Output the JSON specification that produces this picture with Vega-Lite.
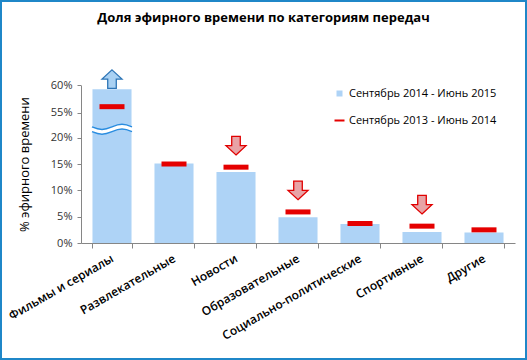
{
  "$schema": "https://vega.github.io/schema/vega-lite/v6.json",
  "width": 527,
  "height": 360,
  "autosize": "none",
  "padding": 0,
  "background": "white",
  "title": {
    "text": "Доля эфирного времени по категориям передач",
    "anchor": "middle",
    "frame": "group",
    "offset": -25,
    "font": "Open Sans",
    "fontSize": 13,
    "fontWeight": "bold",
    "color": "#000000"
  },
  "config": {
    "view": {"stroke": "#1f87c8", "strokeWidth": 4},
    "font": "Open Sans"
  },
  "datasets": {
    "main": [
      {"cat": "Фильмы и сериалы", "v2015": 59.3, "v2014": 56.1, "arrow": "up"},
      {"cat": "Развлекательные", "v2015": 15.1, "v2014": 15.0, "arrow": "none"},
      {"cat": "Новости", "v2015": 13.5, "v2014": 14.4, "arrow": "down"},
      {"cat": "Образовательные", "v2015": 4.9, "v2014": 5.9, "arrow": "down"},
      {"cat": "Социально-политические", "v2015": 3.6, "v2014": 3.7, "arrow": "none"},
      {"cat": "Спортивные", "v2015": 2.1, "v2014": 3.2, "arrow": "down"},
      {"cat": "Другие", "v2015": 2.0, "v2014": 2.5, "arrow": "none"}
    ],
    "brk": [
      {"cat": "Фильмы и сериалы", "brk": 21.6}
    ]
  },
  "layer": [
    {
      "data": {"name": "main"},
      "mark": {"type": "bar", "opacity": 1},
      "encoding": {
        "x": {
          "field": "cat", "type": "nominal", "sort": null,
          "scale": {"range": [81, 515], "paddingInner": 0.37, "paddingOuter": 0.185},
          "axis": {
            "title": null, "orient": "bottom", "offset": -117,
            "domainColor": "#868686", "tickColor": "#868686", "tickSize": 5,
            "tickBand": "extent",
            "labelAngle": -30, "labelAlign": "right", "labelBaseline": "middle",
            "labelPadding": 9, "labelFont": "Open Sans", "labelFontSize": 12,
            "labelFontWeight": 600, "labelColor": "#000000", "labelOverlap": false
          }
        },
        "y": {
          "field": "v2015", "type": "quantitative", "title": "% эфирного времени",
          "scale": {"domain": [0, 21.8, 52.5, 60], "range": [243, 128.2, 126.4, 85.3], "nice": false, "zero": false, "clamp": false},
          "axis": {
            "title": "% эфирного времени", "orient": "left", "offset": -81,
            "values": [0, 5, 10, 15, 20, 55, 60],
            "labelExpr": "datum.value + '%'",
            "grid": false,
            "domainColor": "#868686", "tickColor": "#868686", "tickSize": 4,
            "labelPadding": 5, "labelFontSize": 11, "labelColor": "#333333",
            "titleFontSize": 13, "titleFontWeight": "normal", "titleColor": "#000000",
            "titlePadding": 19
          }
        },
        "color": {
          "datum": "Сентябрь 2014 - Июнь 2015",
          "scale": {"domain": ["Сентябрь 2014 - Июнь 2015"], "range": ["#aed3f6"]},
          "legend": {
            "title": null, "orient": "none", "legendX": 334, "legendY": 88,
            "labelFontSize": 11, "labelColor": "#000000", "labelOffset": 4,
            "symbolSize": 100, "symbolStrokeWidth": 0, "symbolOpacity": 1,
            "symbolType": "M-0.6,-0.6H0.6V0.6H-0.6Z"
          }
        }
      }
    },
    {
      "data": {"name": "brk"},
      "mark": {"type": "point", "filled": true, "fill": "white", "strokeWidth": 0, "opacity": 1, "size": 1600,
        "shape": "M-1,-0.12C-0.6,0.05 -0.4,0.05 0,-0.12C0.4,-0.29 0.6,-0.29 1,-0.12L1,0.12C0.6,-0.05 0.4,-0.05 0,0.12C-0.4,0.29 -0.6,0.29 -1,0.12Z"},
      "encoding": {
        "x": {"field": "cat", "type": "nominal", "sort": null},
        "y": {"field": "brk", "type": "quantitative", "title": "% эфирного времени"}
      }
    },
    {
      "data": {"name": "brk"},
      "mark": {"type": "point", "filled": false, "stroke": "#2a8de0", "strokeWidth": 1.5, "opacity": 1, "size": 1600,
        "shape": "M-1,-0.12C-0.6,0.05 -0.4,0.05 0,-0.12C0.4,-0.29 0.6,-0.29 1,-0.12M-1,0.12C-0.6,0.29 -0.4,0.29 0,0.12C0.4,-0.05 0.6,-0.05 1,0.12"},
      "encoding": {
        "x": {"field": "cat", "type": "nominal", "sort": null},
        "y": {"field": "brk", "type": "quantitative", "title": "% эфирного времени"}
      }
    },
    {
      "data": {"name": "main"},
      "mark": {"type": "tick", "thickness": 5, "size": 25, "opacity": 1},
      "encoding": {
        "x": {"field": "cat", "type": "nominal", "sort": null},
        "y": {"field": "v2014", "type": "quantitative", "title": "% эфирного времени"},
        "fill": {
          "datum": "Сентябрь 2013 - Июнь 2014",
          "scale": {"domain": ["Сентябрь 2013 - Июнь 2014"], "range": ["#e50000"]},
          "legend": {
            "title": null, "orient": "none", "legendX": 334, "legendY": 115,
            "labelFontSize": 11, "labelColor": "#000000", "labelOffset": 4,
            "symbolSize": 100, "symbolStrokeWidth": 0, "symbolOpacity": 1,
            "symbolType": "M-1,-0.2H1V0.2H-1Z"
          }
        }
      }
    },
    {
      "data": {"name": "main"},
      "transform": [{"filter": "datum.arrow === 'up'"}],
      "mark": {"type": "point", "filled": true, "fill": "#a9d1f3", "stroke": "#2e75b6", "strokeWidth": 1.3, "opacity": 1, "size": 816, "yOffset": -10,
        "shape": "M0,-0.65L0.7,0L0.3,0L0.3,0.65L-0.3,0.65L-0.3,0L-0.7,0Z"},
      "encoding": {
        "x": {"field": "cat", "type": "nominal", "sort": null},
        "y": {"field": "v2015", "type": "quantitative", "title": "% эфирного времени"}
      }
    },
    {
      "data": {"name": "main"},
      "transform": [{"filter": "datum.arrow === 'down'"}],
      "mark": {"type": "point", "filled": true, "fill": "#e8a3a6", "stroke": "#e00000", "strokeWidth": 1.3, "opacity": 1, "size": 816, "yOffset": -21.5,
        "shape": "M0,0.65L0.7,0L0.3,0L0.3,-0.65L-0.3,-0.65L-0.3,0L-0.7,0Z"},
      "encoding": {
        "x": {"field": "cat", "type": "nominal", "sort": null},
        "y": {"field": "v2014", "type": "quantitative", "title": "% эфирного времени"}
      }
    }
  ]
}
